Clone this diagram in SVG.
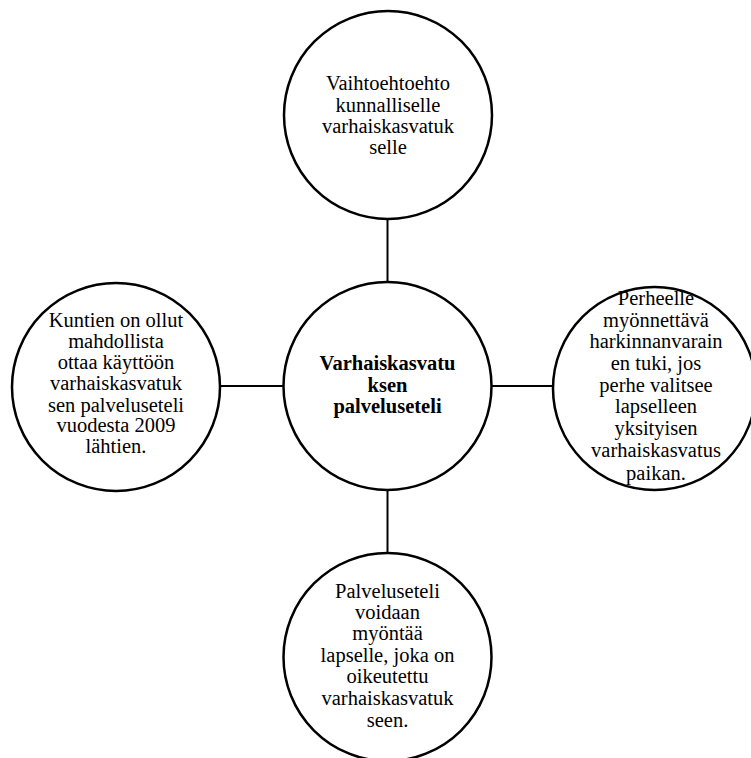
<svg xmlns="http://www.w3.org/2000/svg" width="751" height="758" viewBox="0 0 751 758" font-family="Liberation Serif, Times New Roman, DejaVu Serif, serif">
<style>
.n{fill:#fff;stroke:#000;stroke-width:2.5}
.c line{stroke:#000;stroke-width:2}
text{font-family:'Liberation Serif','Times New Roman',serif;font-size:20.5px;fill:#000;text-anchor:middle}
.b{font-weight:bold}
</style>
<rect width="751" height="758" fill="#fff"/>
<g class="c" id="connectors">
<line x1="387.5" y1="219" x2="387.5" y2="282"/>
<line x1="387.5" y1="490" x2="387.5" y2="553"/>
<line x1="220" y1="386" x2="283.5" y2="386"/>
<line x1="491.5" y1="386" x2="553" y2="386"/>
</g>
<g id="center">
<circle class="n" cx="387.5" cy="386" r="104"/>
<text class="b" x="387.5" y="370">Varhaiskasvatu</text>
<text class="b" x="387.5" y="392">ksen</text>
<text class="b" x="387.5" y="413">palveluseteli</text>
</g>
<g id="top">
<circle class="n" cx="388" cy="115" r="104"/>
<text x="388" y="90">Vaihtoehtoehto</text>
<text x="388" y="111.5">kunnalliselle</text>
<text x="388" y="132.5">varhaiskasvatuk</text>
<text x="388" y="154">selle</text>
</g>
<g id="left">
<circle class="n" cx="116" cy="387" r="104"/>
<text x="116" y="327">Kuntien on ollut</text>
<text x="116" y="348">mahdollista</text>
<text x="116" y="369">ottaa käyttöön</text>
<text x="116" y="390">varhaiskasvatuk</text>
<text x="116" y="411.5">sen palveluseteli</text>
<text x="116" y="432">vuodesta 2009</text>
<text x="116" y="453">lähtien.</text>
</g>
<g id="right">
<circle class="n" cx="654.5" cy="388.5" r="101.5"/>
<text x="656" y="305">Perheelle</text>
<text x="656" y="327">myönnettävä</text>
<text x="656" y="348">harkinnanvarain</text>
<text x="656" y="370">en tuki, jos</text>
<text x="656" y="392">perhe valitsee</text>
<text x="656" y="413">lapselleen</text>
<text x="656" y="435">yksityisen</text>
<text x="656" y="457">varhaiskasvatus</text>
<text x="656" y="480">paikan.</text>
</g>
<g id="bottom">
<circle class="n" cx="387.5" cy="657" r="104"/>
<text x="387.5" y="598">Palveluseteli</text>
<text x="387.5" y="619">voidaan</text>
<text x="387.5" y="640">myöntää</text>
<text x="387.5" y="662">lapselle, joka on</text>
<text x="387.5" y="683">oikeutettu</text>
<text x="387.5" y="705">varhaiskasvatuk</text>
<text x="387.5" y="727">seen.</text>
</g>
</svg>
